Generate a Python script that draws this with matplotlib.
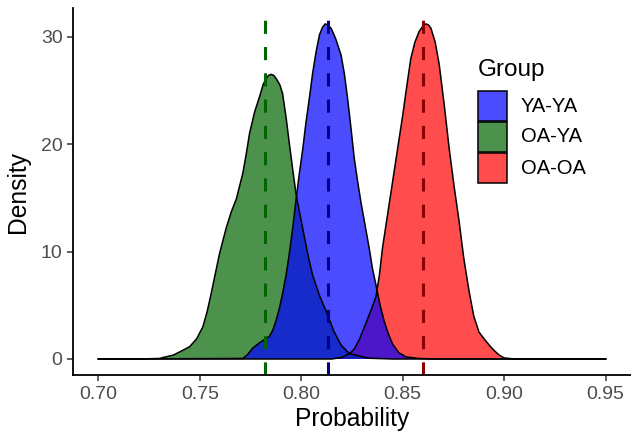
import matplotlib
matplotlib.use("Agg")
import matplotlib.pyplot as plt
from matplotlib.patches import Rectangle

plt.rcParams['font.family'] = ['Liberation Sans', 'DejaVu Sans']

# density curves (x = probability, y = density)
oa_ya_x = [0.700, 0.720, 0.730, 0.737, 0.7405, 0.745, 0.7485, 0.7515, 0.7536, 0.7556,
           0.7577, 0.7597, 0.763, 0.7655, 0.768, 0.7712, 0.7728, 0.7745, 0.777, 0.7794,
           0.7813, 0.7825, 0.7838, 0.7851, 0.7865, 0.788, 0.7895, 0.7908, 0.7925, 0.7941,
           0.7958, 0.7974, 0.7995, 0.8015, 0.8035, 0.8056, 0.809, 0.813, 0.816, 0.8196,
           0.8237, 0.8335, 0.845, 0.950]
oa_ya_y = [0.0, 0.0, 0.05, 0.37, 0.7, 1.15, 1.9, 3.0, 4.4, 6.1,
           8.0, 9.8, 12.2, 13.7, 14.9, 17.3, 19.0, 21.0, 23.0, 24.4,
           25.6, 26.0, 26.4, 26.5, 26.4, 26.0, 25.5, 24.7, 22.5, 20.1,
           17.6, 15.4, 13.3, 11.4, 9.5, 7.8, 5.9, 4.1, 2.6, 1.3,
           0.5, 0.07, 0.0, 0.0]

ya_ya_x = [0.700, 0.7712, 0.7735, 0.776, 0.7794, 0.7825, 0.7843, 0.786, 0.7876, 0.7892,
           0.7908, 0.7925, 0.7941, 0.7958, 0.7974, 0.799, 0.8007, 0.8023, 0.804, 0.8056,
           0.8073, 0.809, 0.8105, 0.8118, 0.813, 0.8147, 0.817, 0.8196, 0.8212, 0.8228,
           0.8245, 0.8261, 0.8278, 0.8294, 0.8315, 0.8335, 0.835, 0.8368, 0.839, 0.8409,
           0.843, 0.845, 0.848, 0.8516, 0.858, 0.865, 0.950]
ya_ya_y = [0.0, 0.05, 0.4, 1.0, 1.5, 1.9, 2.1, 2.7, 3.6, 4.7,
           6.1, 7.8, 9.8, 12.2, 14.8, 17.2, 19.5, 22.0, 24.3, 26.6,
           28.6, 30.2, 30.9, 31.2, 31.1, 30.8, 29.8, 28.3, 26.6, 24.3,
           21.5, 18.7, 16.5, 14.6, 12.4, 10.3, 8.5, 6.9, 4.9, 3.5,
           2.3, 1.4, 0.6, 0.2, 0.05, 0.0, 0.0]

oa_oa_x = [0.700, 0.815, 0.820, 0.8237, 0.826, 0.8286, 0.832, 0.8345, 0.8368, 0.8385,
           0.840, 0.8425, 0.845, 0.8475, 0.850, 0.852, 0.854, 0.856, 0.8581, 0.860,
           0.8614, 0.8627, 0.8639, 0.866, 0.868, 0.8705, 0.8729, 0.8753, 0.8778, 0.880,
           0.8827, 0.885, 0.8876, 0.890, 0.8926, 0.895, 0.8975, 0.900, 0.904, 0.950]
oa_oa_y = [0.0, 0.0, 0.15, 0.5, 0.9, 1.8, 3.4, 4.6, 5.8, 7.8,
           10.3, 13.4, 16.5, 19.6, 22.7, 25.4, 28.0, 29.5, 30.5, 31.0,
           31.2, 31.1, 30.8, 29.5, 27.4, 23.6, 19.6, 16.1, 12.8, 9.5,
           6.3, 4.0, 2.5, 1.9, 1.3, 0.8, 0.37, 0.1, 0.02, 0.0]

# group means (dashed lines)
means = {'OA-YA': 0.7823, 'YA-YA': 0.8133, 'OA-OA': 0.8601}

groups = ['YA-YA', 'OA-YA', 'OA-OA']
fills = {'YA-YA': 'blue', 'OA-YA': 'darkgreen', 'OA-OA': 'red'}
line_cols = {'YA-YA': 'darkblue', 'OA-YA': 'darkgreen', 'OA-OA': 'darkred'}
curves = {'OA-YA': (oa_ya_x, oa_ya_y), 'YA-YA': (ya_ya_x, ya_ya_y), 'OA-OA': (oa_oa_x, oa_oa_y)}

W, H = 631, 434
fig = plt.figure(figsize=(W / 100, H / 100), dpi=100)
ax = fig.add_axes([73 / W, 1 - 375 / H, (W - 73) / W, (375 - 8) / H])

# blue sits on top of the other two in the picture
for g in ['OA-OA', 'OA-YA', 'YA-YA']:
    xs, ys = curves[g]
    ax.fill_between(xs, 0, ys, facecolor=fills[g], alpha=0.7, linewidth=0)
    ax.plot(xs, ys, color='black', lw=1.1)

for g in ['OA-YA', 'YA-YA', 'OA-OA']:
    ax.axvline(means[g], color=line_cols[g], lw=2.2, ls=(0, (4.3, 4.3)))

ax.set_xlim(0.6875, 0.9625)
ax.set_ylim(-1.49, 32.68)
ax.set_xticks([0.70, 0.75, 0.80, 0.85, 0.90, 0.95])
ax.set_xticklabels(['0.70', '0.75', '0.80', '0.85', '0.90', '0.95'])
ax.set_yticks([0, 10, 20, 30])

for s in ['top', 'right']:
    ax.spines[s].set_visible(False)
for s in ['left', 'bottom']:
    ax.spines[s].set_linewidth(1.3)
    ax.spines[s].set_color('black')

ax.tick_params(axis='both', length=4.5, width=1.1, color='#333333',
               labelsize=14, labelcolor='#4D4D4D')
ax.tick_params(axis='x', pad=3.5)
ax.tick_params(axis='y', pad=3)

ax.set_xlabel('Probability', fontsize=17.7, labelpad=3)
ax.set_ylabel('Density', fontsize=17.7, labelpad=8)

# legend drawn by hand so the keys match the ggplot look
def fx(px):
    return px / W

def fy(py):
    return 1 - py / H

fig.text(fx(478), fy(76), 'Group', fontsize=17.5, ha='left', va='baseline')
for i, g in enumerate(groups):
    top = 91 + 31 * i
    fig.add_artist(Rectangle((fx(478), fy(top + 30)), 29 / W, 30 / H,
                             transform=fig.transFigure, facecolor=fills[g], alpha=0.7,
                             edgecolor='none'))
    fig.add_artist(Rectangle((fx(478), fy(top + 30)), 29 / W, 30 / H,
                             transform=fig.transFigure, facecolor='none',
                             edgecolor='black', linewidth=1.1))
    fig.text(fx(521), fy(top + 15), g, fontsize=14.5, ha='left', va='center')

fig.savefig('out.png', dpi=100)
